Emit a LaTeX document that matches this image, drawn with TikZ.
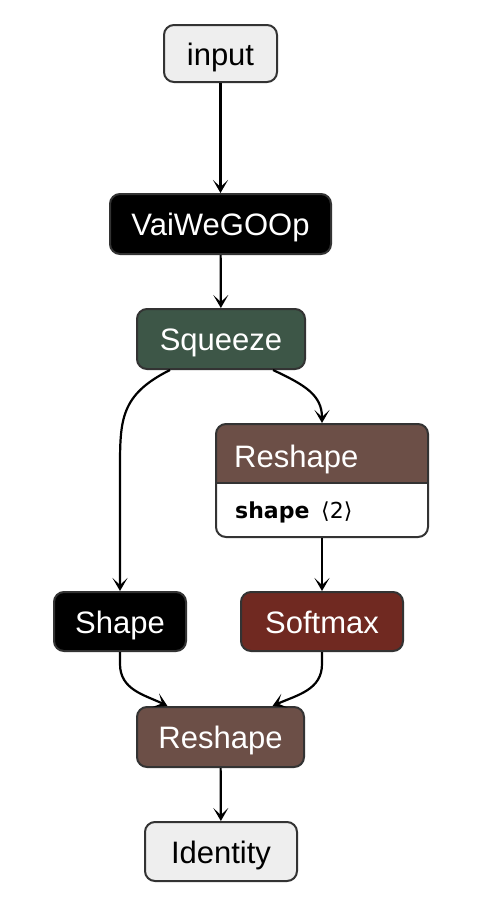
\documentclass[tikz,border=0pt]{standalone}
\usepackage{fontspec}
\setmainfont{Liberation Sans}
\newfontfamily\dejavu{DejaVu Sans}
\usetikzlibrary{arrows.meta,positioning,calc}
\definecolor{bordc}{HTML}{333333}
\definecolor{wrapc}{HTML}{EEEEEE}
\definecolor{transc}{HTML}{3D5647}
\definecolor{shapec}{HTML}{6C4F47}
\definecolor{actc}{HTML}{702921}
\tikzset{
  opbox/.style={draw=bordc, line width=2pt, rounded corners=10pt, inner sep=0pt,
    text height=23pt, text depth=0pt, font=\fontsize{31}{37}\selectfont},
  lightop/.style={opbox, fill=wrapc, text=black},
  darkop/.style={opbox, text=white},
  edge/.style={line width=2.2pt, black, -{Stealth[length=13pt,width=15pt,inset=7pt]}},
}
\begin{document}
\begin{tikzpicture}[x=1pt,y=-1pt]
\useasboundingbox (0,0) rectangle (478,910);
\fill[white] (0,0) rectangle (478,910);

\node[lightop, minimum width=113pt, minimum height=57pt] (in) at (220.5,53.5) {input};
\node[darkop, fill=black, minimum width=221pt, minimum height=60pt] (vai) at (220.5,224) {VaiWeGOOp};
\node[darkop, fill=transc, minimum width=168pt, minimum height=60pt] (sq) at (221,339) {Squeeze};

% two-part Reshape node
\coordinate (rtl) at (216,424);
\coordinate (rbr) at (428,537);
\fill[white, rounded corners=10pt] (rtl) rectangle (rbr);
\fill[shapec] (216,483) {[rounded corners=10pt] -- (216,424) -- (428,424)} -- (428,483) -- cycle;
\draw[bordc, line width=2pt] (216,483) -- (428,483);
\node[draw=bordc, line width=2pt, rounded corners=10pt, inner sep=0pt, minimum width=212pt, minimum height=113pt] (rs) at (322,480.5) {};
\node[anchor=base west, inner sep=0pt, text=white, font=\fontsize{31}{37}\selectfont] (rslabel) at (234,467) {Reshape};
\node[anchor=base west, inner sep=0pt, font=\dejavu\bfseries\fontsize{22}{26}\selectfont] (rsattr) at (235,518.5) {shape};
\node[anchor=base west, inner sep=0pt, font=\dejavu\fontsize{22}{26}\selectfont] (rsval) at (321,518.5) {⟨2⟩};

\node[darkop, fill=black, minimum width=132pt, minimum height=59pt] (sh) at (120,621.5) {Shape};
\node[darkop, fill=actc, minimum width=162pt, minimum height=59pt] (sm) at (322,621.5) {Softmax};
\node[darkop, fill=shapec, minimum width=167pt, minimum height=60pt] (rs2) at (220.5,737) {Reshape};
\node[lightop, minimum width=152pt, minimum height=59pt] (id) at (221,851.5) {Identity};

\draw[edge] (in) -- (vai);
\draw[edge] (vai) -- (sq);
\draw[edge] ([xshift=-51pt]sq.south) .. controls (120,395) and (120,420) .. (120,470) -- (sh.north);
\draw[edge] ([xshift=52pt]sq.south) .. controls (305,385) and (322,395) .. (rs.north);
\draw[edge] (rs) -- (sm);
\draw[edge] (sh.south) -- ++(0,12) .. controls (120,690) and (145,695) .. ([xshift=-53pt]rs2.north);
\draw[edge] (sm.south) -- ++(0,12) .. controls (322,690) and (297,695) .. ([xshift=52pt]rs2.north);
\draw[edge] (rs2) -- (id);
\end{tikzpicture}
\end{document}
